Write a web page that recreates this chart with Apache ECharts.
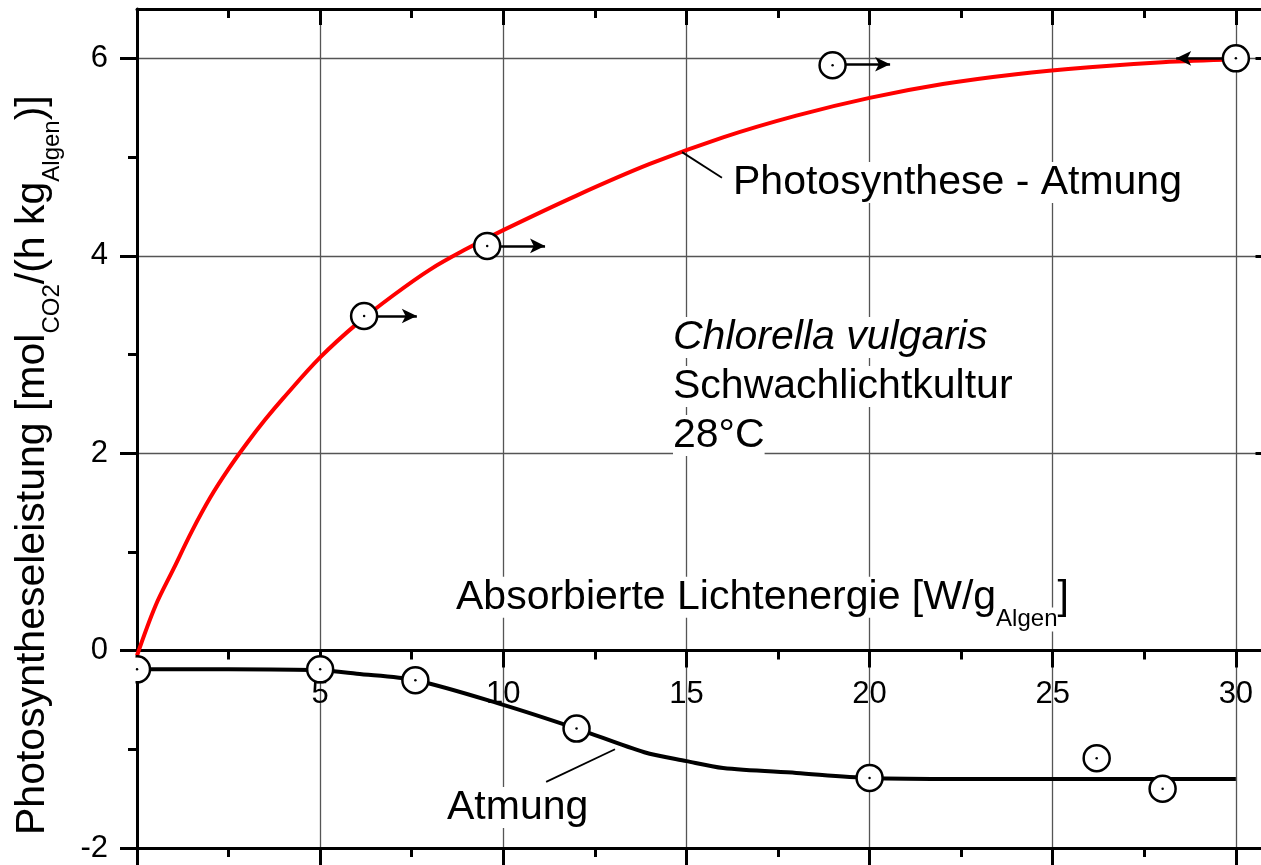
<!DOCTYPE html>
<html>
<head>
<meta charset="utf-8">
<script src="https://cdn.jsdelivr.net/npm/echarts@6/dist/echarts.min.js"></script>
<style>
  html, body { margin: 0; padding: 0; background: #fff; }
  #chart { width: 1261px; height: 865px; }
</style>
</head>
<body>
<div id="chart"></div>
<script>
const FONT = '"Liberation Sans", Arial, sans-serif';

// axis ticks
const xMajor = [0, 5, 10, 15, 20, 25, 30];
const xMinor = [2.5, 7.5, 12.5, 17.5, 22.5, 27.5];
const xLabels = [5, 10, 15, 20, 25, 30];
const yMajor = [-2, 0, 2, 4, 6];
const yMinor = [-1, 1, 3, 5];
const X_MAX = 31, Y_MIN = -2, Y_MAX = 6.5;

// Photosynthese - Atmung (curve + measured points)
const netCurve = [[0,-0.05],[0.5,0.45],[1,0.83],[1.5,1.21],[2,1.55],[2.5,1.84],[3,2.1],[3.5,2.34],[4,2.56],
  [5,2.97],[6,3.31],[7,3.6],[8,3.86],[9,4.07],[10,4.26],[12,4.61],[14,4.93],[16,5.2],[18,5.42],
  [20,5.6],[22,5.74],[24,5.84],[26,5.91],[28,5.96],[30,5.99]];
const netPoints = [[6.2,3.39],[9.56,4.1],[18.99,5.93],[30,6.0]];
// arrows: [x start, y, x tip]
const arrows = [[6.2,3.39,7.64],[9.56,4.1,11.14],[18.99,5.94,20.56],[30,6.0,28.37]];

// Atmung (curve + measured points)
const respCurve = [[0,-0.19],[2.5,-0.19],[5,-0.2],[6,-0.235],[7.6,-0.3],[10,-0.55],[12,-0.79],
  [13.85,-1.03],[15,-1.12],[16,-1.19],[18,-1.24],[20,-1.29],[22.5,-1.3],[25,-1.3],[30,-1.3]];
const respPoints = [[0,-0.19],[5,-0.19],[7.6,-0.3],[12,-0.79],[20,-1.29],[26.2,-1.09],[28,-1.4]];

// leader lines of the curve labels
const leaders = [[14.88,5.05,15.97,4.79],[13.05,-1.0,11.17,-1.33]];

const ctx = document.createElement('canvas').getContext('2d');
function font(size, style) { return (style ? style + ' ' : '') + size + 'px ' + FONT; }
function measure(t, size) { ctx.font = font(size); return ctx.measureText(t).width; }

// one line of text with subscripts, baseline at y=0, starting at x=0
function subRow(parts, size, subSize, drop, bg) {
  let x = 0;
  return parts.map(p => {
    const s = p.sub ? subSize : size;
    const el = {
      type: 'text', z: 50, x: x, y: (p.sub ? drop : 0) - 0.31 * s,
      style: { text: p.t, font: font(s), fill: '#000', align: 'left', textAlign: 'left',
               verticalAlign: 'middle', textVerticalAlign: 'middle', backgroundColor: bg || null }
    };
    x += measure(p.t, s);
    return el;
  });
}

function note(text, x, y, style) {
  return {
    type: 'text', z: 50, x: x, y: y,
    style: { text: text, font: font(41, style), fill: '#000', align: 'left', textAlign: 'left',
             verticalAlign: 'middle', textVerticalAlign: 'middle', backgroundColor: '#fff' }
  };
}

function axis(kind, grid, pos, ticks, len, inside, extra) {
  const ax = {
    type: 'value', gridIndex: grid, position: pos,
    min: kind === 'x' ? 0 : Y_MIN, max: kind === 'x' ? X_MAX : Y_MAX,
    axisLine: { show: true, onZero: false, lineStyle: { color: '#000', width: 3 } },
    axisTick: { show: true, inside: inside, length: len, customValues: ticks, lineStyle: { color: '#000', width: 3 } },
    axisLabel: { show: false },
    splitLine: { show: false },
    minorTick: { show: false }
  };
  return Object.assign(ax, extra || {});
}

const tickFont = { fontSize: 31, color: '#000', fontFamily: FONT };
const gridLine = { show: true, lineStyle: { color: '#555', width: 1.3 } };
const noLine = { show: false, onZero: false };

const chart = echarts.init(document.getElementById('chart'));

const option = {
  backgroundColor: '#fff',
  animation: false,
  grid: [
    // full frame, -2 .. 6.5
    { left: 137, top: 9, width: 1135.5, height: 839, outerBoundsMode: 'none', containLabel: false },
    // upper part, 0 .. 6.5 : its bottom edge carries the x axis at y = 0
    { left: 137, top: 9, width: 1135.5, height: 641.6, outerBoundsMode: 'none', containLabel: false }
  ],
  xAxis: [
    axis('x', 0, 'bottom', xMajor, 17, false, { splitLine: gridLine }),
    axis('x', 0, 'bottom', xMinor, 9, false, { axisLine: noLine }),
    axis('x', 0, 'top', xMajor, 16, true),
    axis('x', 0, 'top', xMinor, 9, true, { axisLine: noLine }),
    axis('x', 1, 'bottom', xMajor, 17, false, {
      axisLabel: Object.assign({ show: true, margin: 28, customValues: xLabels }, tickFont)
    }),
    axis('x', 1, 'bottom', xMinor, 9, false, { axisLine: noLine })
  ],
  yAxis: [
    axis('y', 0, 'left', yMajor, 17, false, {
      axisLabel: Object.assign({ show: true, margin: 29, customValues: yMajor }, tickFont),
      splitLine: gridLine
    }),
    axis('y', 0, 'left', yMinor, 9, false, { axisLine: noLine }),
    axis('y', 0, 'right', yMajor, 17, true),
    axis('y', 0, 'right', yMinor, 9, true, { axisLine: noLine }),
    { type: 'value', gridIndex: 1, min: 0, max: Y_MAX, show: false }
  ],
  series: [
    {
      name: 'Photosynthese - Atmung', type: 'line', data: netCurve,
      smooth: 0.35, showSymbol: false, z: 2,
      lineStyle: { color: '#ff0000', width: 4 },
      markLine: {
        silent: true, z: 5, symbol: ['none', 'arrow'], symbolSize: [11, 15],
        label: { show: false },
        lineStyle: { color: '#000', width: 2.5, type: 'solid', opacity: 1 },
        data: arrows.map(a => [{ coord: [a[0], a[1]] }, { coord: [a[2], a[1]] }])
      }
    },
    {
      name: 'Atmung', type: 'line', data: respCurve,
      smooth: 0.3, showSymbol: false, z: 2,
      lineStyle: { color: '#000', width: 4 },
      markLine: {
        silent: true, z: 5, symbol: ['none', 'none'],
        label: { show: false },
        lineStyle: { color: '#000', width: 1.8, type: 'solid', opacity: 1 },
        data: leaders.map(l => [{ coord: [l[0], l[1]] }, { coord: [l[2], l[3]] }])
      }
    },
    {
      type: 'scatter', data: netPoints.concat(respPoints), z: 10,
      symbol: 'circle', symbolSize: 26,
      itemStyle: { color: '#fff', borderColor: '#000', borderWidth: 2.5, opacity: 1 }
    },
    {
      type: 'scatter', data: netPoints.concat(respPoints), z: 11,
      symbol: 'circle', symbolSize: 2.5,
      itemStyle: { color: '#000', opacity: 1 }
    }
  ],
  graphic: [
    // hide the part of the first point outside the frame
    { type: 'rect', z: 100, shape: { x: 110, y: 655, width: 25.5, height: 32 }, style: { fill: '#fff' } },
    note('Photosynthese - Atmung', 733, 182.6),
    note('Chlorella vulgaris', 673, 337.6, 'italic'),
    note('Schwachlichtkultur', 673, 386.6),
    note('28°C', 673, 435.6),
    note('Atmung', 447, 807.6),
    {
      type: 'group', x: 456, y: 610,
      children: subRow([{ t: 'Absorbierte Lichtenergie [W/g' }, { t: 'Algen', sub: true }, { t: ']' }], 41, 24, 17, '#fff')
    },
    {
      type: 'group', x: 45, y: 835, rotation: Math.PI / 2,
      children: subRow([{ t: 'Photosyntheseleistung [mol' }, { t: 'CO2', sub: true }, { t: '/(h kg' },
                        { t: 'Algen', sub: true }, { t: ')]' }], 41, 24, 15)
    }
  ]
};

chart.setOption(option);
</script>
</body>
</html>
